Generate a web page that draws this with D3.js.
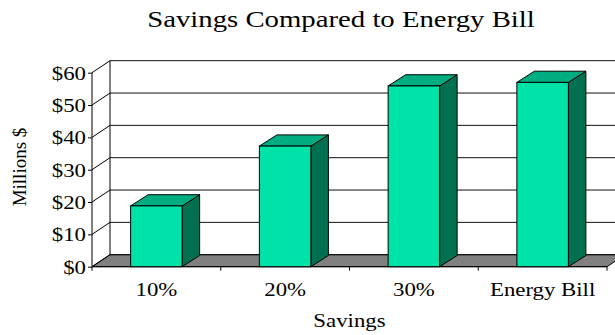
<!DOCTYPE html>
<html>
<head>
<meta charset="utf-8">
<script src="https://cdn.jsdelivr.net/npm/d3@7/dist/d3.min.js"></script>
<style>
  html, body { margin: 0; padding: 0; background: #fff; }
  svg { display: block; }
  text { font-family: "Liberation Serif", "Times New Roman", serif; fill: #000; }
</style>
</head>
<body>
<svg id="chart" width="615" height="335"></svg>
<script>
// Chart data
const categories = ["10%", "20%", "30%", "Energy Bill"];
const savings = [18.8, 37.3, 55.9, 57.0];
const yTicks = [0, 10, 20, 30, 40, 50, 60];
const yTickLabels = ["$0", "$10", "$20", "$30", "$40", "$50", "$60"];
const chartTitle = "Savings Compared to Energy Bill";
const xTitle = "Savings";
const yTitle = "Millions $";

const svg = d3.select("#chart");

// Front plane of the 3D plot box
const plotLeft = 92, plotRight = 607, plotBase = 266.7, plotTop = 72.7;
// Depth offset of the back wall and of each column
const wallDx = 18, wallDy = -12;
const barDx = 17.5, barDy = -11.2;

const x = d3.scaleBand()
  .domain(categories)
  .range([plotLeft, plotRight])
  .paddingInner(0.6)
  .paddingOuter(0.3);

const y = d3.scaleLinear().domain([0, 60]).range([plotBase, plotTop]);

const colors = { front: "#00e3a8", top: "#00ad80", side: "#007050", floor: "#808080" };

// Floor
svg.append("polygon")
  .attr("points", [
    [plotLeft, plotBase], [plotRight, plotBase],
    [plotRight + wallDx, plotBase + wallDy], [plotLeft + wallDx, plotBase + wallDy]
  ].map(p => p.join(",")).join(" "))
  .attr("fill", colors.floor)
  .attr("stroke", "#000")
  .attr("stroke-width", 1);

// Back-wall gridlines
svg.append("g").selectAll("line")
  .data(yTicks)
  .join("line")
  .attr("x1", plotLeft + wallDx).attr("x2", plotRight + wallDx)
  .attr("y1", d => y(d) + wallDy).attr("y2", d => y(d) + wallDy)
  .attr("stroke", "#111").attr("stroke-width", 1);

// Back-wall left edge
svg.append("line")
  .attr("x1", plotLeft + wallDx).attr("x2", plotLeft + wallDx)
  .attr("y1", y(60) + wallDy).attr("y2", y(0) + wallDy)
  .attr("stroke", "#000");

// Side-wall connectors from the front axis to each gridline
svg.append("g").selectAll("line")
  .data(yTicks)
  .join("line")
  .attr("x1", plotLeft).attr("y1", d => y(d))
  .attr("x2", plotLeft + wallDx).attr("y2", d => y(d) + wallDy)
  .attr("stroke", "#000");

// Front value axis
const yAxis = d3.axisLeft(y)
  .tickValues(yTicks)
  .tickFormat((d, i) => yTickLabels[i])
  .tickSize(4)
  .tickPadding(2);
const gy = svg.append("g").attr("transform", `translate(${plotLeft},0)`).call(yAxis);
gy.select(".domain").attr("d", `M0,${y(60)}V${y(0)}`).attr("stroke", "#000");
gy.selectAll("line").attr("stroke", "#000");
gy.selectAll("text")
  .attr("font-size", 19)
  .attr("font-family", "Liberation Serif, serif")
  .attr("dy", "0.34em");

// Front category axis
const xAxis = d3.axisBottom(x).tickSize(0).tickPadding(16);
const gx = svg.append("g").attr("transform", `translate(0,${plotBase})`).call(xAxis);
gx.select(".domain").attr("d", `M${plotLeft},0H${plotRight}`).attr("stroke", "#000");
gx.selectAll("text")
  .attr("font-size", 19)
  .attr("font-family", "Liberation Serif, serif");

// Boundary ticks between categories
svg.append("g").selectAll("line")
  .data(d3.range(categories.length + 1))
  .join("line")
  .attr("x1", i => plotLeft + i * (plotRight - plotLeft) / categories.length)
  .attr("x2", i => plotLeft + i * (plotRight - plotLeft) / categories.length)
  .attr("y1", plotBase).attr("y2", plotBase + 4)
  .attr("stroke", "#000");

// 3D columns
const bars = svg.append("g").selectAll("g")
  .data(categories.map((c, i) => ({ c, v: savings[i] })))
  .join("g");

bars.append("polygon")
  .attr("points", d => {
    const x0 = x(d.c) + x.bandwidth(), yt = y(d.v);
    return [[x0, yt], [x0 + barDx, yt + barDy], [x0 + barDx, plotBase + barDy], [x0, plotBase]]
      .map(p => p.join(",")).join(" ");
  })
  .attr("fill", colors.side).attr("stroke", "#000").attr("stroke-linejoin", "round");

bars.append("polygon")
  .attr("points", d => {
    const xl = x(d.c), xr = xl + x.bandwidth(), yt = y(d.v);
    return [[xl, yt], [xr, yt], [xr + barDx, yt + barDy], [xl + barDx, yt + barDy]]
      .map(p => p.join(",")).join(" ");
  })
  .attr("fill", colors.top).attr("stroke", "#000").attr("stroke-linejoin", "round");

bars.append("rect")
  .attr("x", d => x(d.c))
  .attr("y", d => y(d.v))
  .attr("width", x.bandwidth())
  .attr("height", d => plotBase - y(d.v))
  .attr("fill", colors.front).attr("stroke", "#000");

// Titles
svg.append("text")
  .attr("class", "title")
  .attr("x", 341).attr("y", 27)
  .attr("text-anchor", "middle")
  .attr("font-size", 23)
  .text(chartTitle);

svg.append("text")
  .attr("class", "xtitle")
  .attr("x", (plotLeft + plotRight) / 2).attr("y", 327)
  .attr("text-anchor", "middle")
  .attr("font-size", 19)
  .text(xTitle);

svg.append("text")
  .attr("class", "ytitle")
  .attr("transform", "translate(26,167) rotate(-90)")
  .attr("text-anchor", "middle")
  .attr("font-size", 19)
  .text(yTitle);

// Widen the serif glyphs to the broader face used on the chart
function widen(sel, k) {
  sel.each(function () {
    const w = this.getComputedTextLength();
    d3.select(this).attr("textLength", w * k).attr("lengthAdjust", "spacingAndGlyphs");
  });
}
widen(svg.selectAll(".title"), 1.25);
widen(svg.selectAll(".xtitle"), 1.2);
widen(gx.selectAll("text"), 1.2);
widen(gy.selectAll("text"), 1.2);
</script>
</body>
</html>
